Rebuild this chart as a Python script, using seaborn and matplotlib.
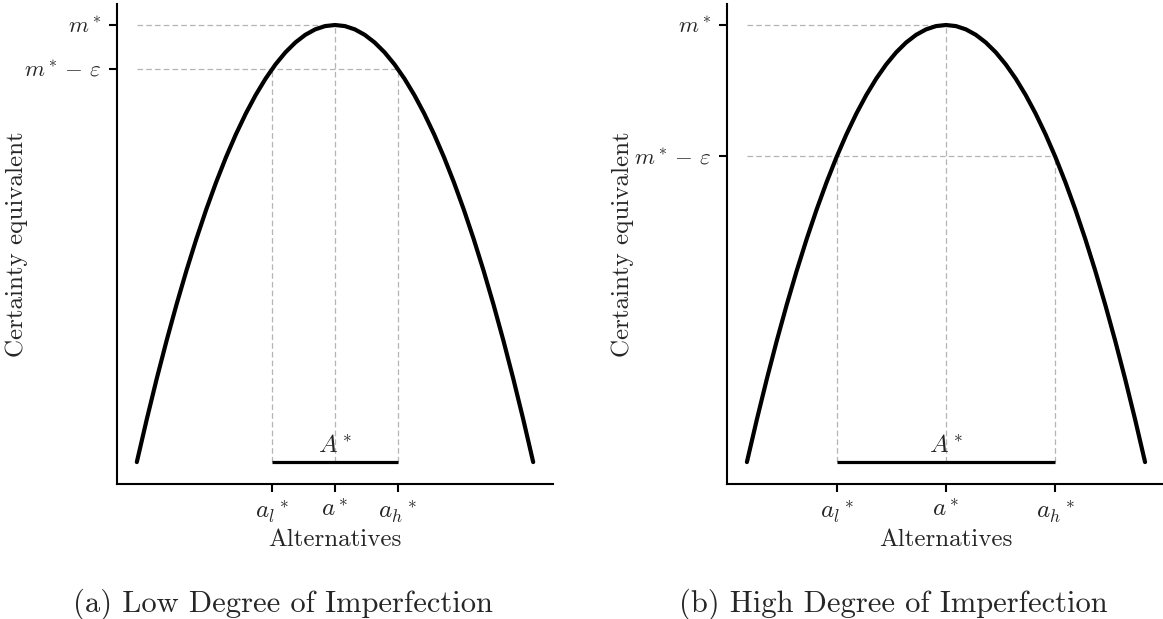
import matplotlib
matplotlib.use('Agg')
import matplotlib.pyplot as plt
import pandas as pd
import seaborn as sns

# certainty equivalent curve (peak at a*, normalised to 1)
alt_x = [-1.0, -0.95, -0.9, -0.85, -0.8, -0.75, -0.7, -0.65, -0.6, -0.55,
         -0.5, -0.45, -0.4, -0.35, -0.3, -0.25, -0.2, -0.15, -0.1, -0.05, 0.0,
         0.05, 0.1, 0.15, 0.2, 0.25, 0.3, 0.35, 0.4, 0.45, 0.5,
         0.55, 0.6, 0.65, 0.7, 0.75, 0.8, 0.85, 0.9, 0.95, 1.0]
cert_eq = [0.0, 0.0975, 0.19, 0.2775, 0.36, 0.4375, 0.51, 0.5775, 0.64, 0.6975,
           0.75, 0.7975, 0.84, 0.8775, 0.91, 0.9375, 0.96, 0.9775, 0.99, 0.9975, 1.0,
           0.9975, 0.99, 0.9775, 0.96, 0.9375, 0.91, 0.8775, 0.84, 0.7975, 0.75,
           0.6975, 0.64, 0.5775, 0.51, 0.4375, 0.36, 0.2775, 0.19, 0.0975, 0.0]

# the two panels: tolerance and the resulting set A*
panel_names = ['(a) Low Degree of Imperfection', '(b) High Degree of Imperfection']
epsilons = [0.1, 0.3]
a_low = [-0.316, -0.548]
a_high = [0.316, 0.548]
a_star = 0.0
m_star = 1.0

x_tick_labels = [r'${a_l}^*$', r'$a^*$', r'${a_h}^*$']
y_tick_labels = [r'$m^* -\, \varepsilon$', r'$m^*$']

sns.set_theme(style='ticks')
plt.rcParams['font.family'] = ['cmr10', 'DejaVu Serif']
plt.rcParams['mathtext.fontset'] = 'cm'
plt.rcParams['axes.formatter.use_mathtext'] = True

curve = pd.DataFrame({'x': alt_x, 'y': cert_eq})

fig = plt.figure(figsize=(11.63, 6.19), dpi=100)
axes_pos = [[0.1006, 0.2189, 0.3749, 0.7746],
            [0.6251, 0.2189, 0.3766, 0.7746]]
ylabel_x = [-0.205, -0.212]
caption_x = [0.243, 0.768]
grey = '#b4b4b4'
dash = (0, (4.5, 2.5))

for i, pos in enumerate(axes_pos):
    ax = fig.add_axes(pos)
    eps, lo, hi = epsilons[i], a_low[i], a_high[i]
    level = m_star - eps

    # helper lines
    ax.plot([alt_x[0], a_star], [m_star, m_star], color=grey, lw=0.9, ls=dash, zorder=1)
    ax.plot([alt_x[0], hi], [level, level], color=grey, lw=0.9, ls=dash, zorder=1)
    for xv, top in [(lo, level), (a_star, m_star), (hi, level)]:
        ax.plot([xv, xv], [0, top], color=grey, lw=0.9, ls=dash, zorder=1)

    sns.lineplot(data=curve, x='x', y='y', color='black', linewidth=3.0,
                 ax=ax, zorder=3)
    ax.plot([lo, hi], [0, 0], color='black', lw=2.3, solid_capstyle='butt', zorder=3)
    ax.text(a_star, 0.022, r'$A^*$', ha='center', va='baseline', fontsize=18)

    ax.set_xlim(-1.1, 1.1)
    ax.set_ylim(-0.049, 1.048)
    ax.set_xticks([lo, a_star, hi])
    ax.set_xticklabels(x_tick_labels, fontsize=18)
    ax.set_yticks([level, m_star])
    ax.set_yticklabels(y_tick_labels, fontsize=16.5)
    ax.tick_params(direction='out', length=6, width=1.5, color='black', pad=5)
    sns.despine(ax=ax)
    for s in ['left', 'bottom']:
        ax.spines[s].set_linewidth(1.5)
        ax.spines[s].set_color('black')
    ax.set_xlabel('Alternatives', fontsize=18)
    ax.set_ylabel('Certainty equivalent', fontsize=18)
    ax.xaxis.set_label_coords(0.5, -0.095)
    ax.yaxis.set_label_coords(ylabel_x[i], 0.5)
    ax.grid(False)

    fig.text(caption_x[i], 0.012, panel_names[i], ha='center', va='baseline',
             fontsize=22)

fig.savefig('out.png', dpi=100)
